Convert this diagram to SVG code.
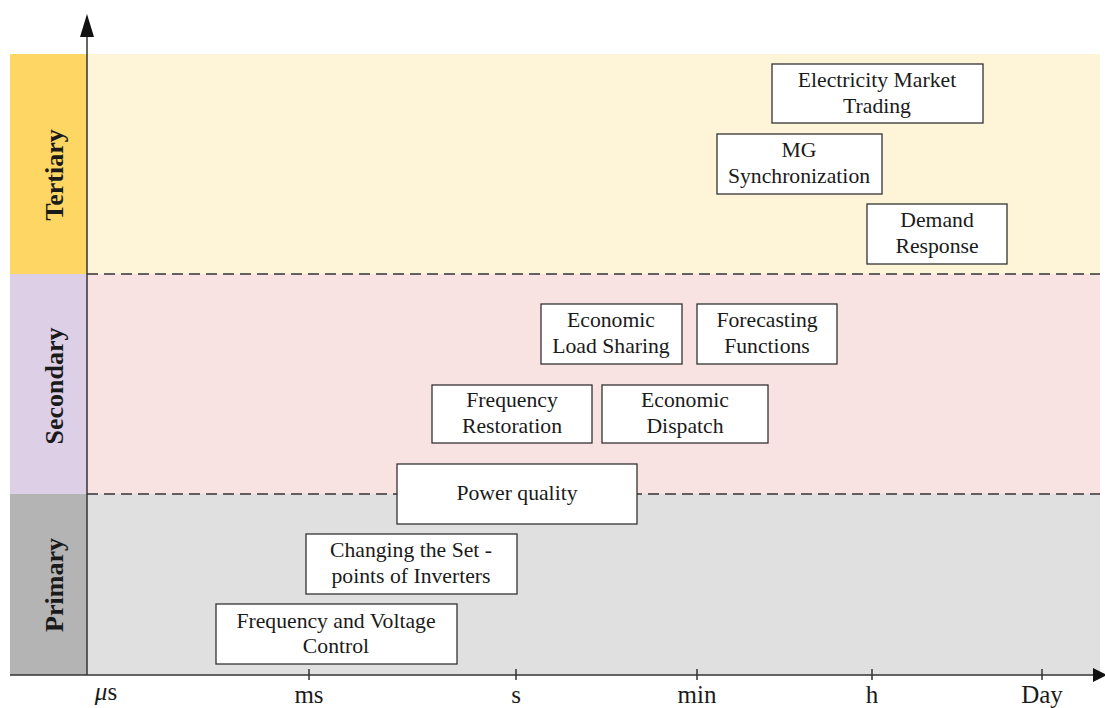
<svg xmlns="http://www.w3.org/2000/svg" width="1105" height="708" viewBox="0 0 1105 708">
  <style>
    .box rect { fill: #ffffff; stroke: #333333; stroke-width: 1.3; }
    .box text { font-family: "Liberation Serif", "Times New Roman", serif; font-size: 21.7px; fill: #1a1a1a; text-anchor: middle; }
    .band { font-family: "Liberation Serif", "Times New Roman", serif; font-size: 26px; font-weight: bold; fill: #1a1a1a; text-anchor: middle; }
    .tick-label { font-family: "Liberation Serif", "Times New Roman", serif; font-size: 25px; fill: #1a1a1a; text-anchor: middle; }
    .dash { stroke: #333333; stroke-width: 1.3; stroke-dasharray: 11 6; fill: none; }
    .axis { stroke: #333333; stroke-width: 1.5; fill: none; }
  </style>

  <!-- level backgrounds -->
  <g id="levels">
    <rect x="87" y="54" width="1013" height="220" fill="#FEF4D7"/>
    <rect x="87" y="274" width="1013" height="220" fill="#F8E3E2"/>
    <rect x="87" y="494" width="1013" height="181" fill="#E0E0E0"/>
    <rect x="10" y="54" width="77" height="220" fill="#FDD663"/>
    <rect x="10" y="274" width="77" height="220" fill="#DCCFE6"/>
    <rect x="10" y="494" width="77" height="181" fill="#B4B4B4"/>
    <text class="band" transform="translate(63,175) rotate(-90)">Tertiary</text>
    <text class="band" transform="translate(63,386) rotate(-90)">Secondary</text>
    <text class="band" transform="translate(63,585) rotate(-90)">Primary</text>
    <line class="dash" x1="87" y1="274" x2="1100" y2="274"/>
    <line class="dash" x1="87" y1="494" x2="1100" y2="494"/>
  </g>

  <!-- axes and time scale -->
  <g id="axes">
    <line class="axis" x1="87" y1="675" x2="87" y2="30"/>
    <polygon points="87,14 80,37 94,37" fill="#111111"/>
    <line class="axis" x1="10" y1="675" x2="1096" y2="675"/>
    <polygon points="1093,668 1107,675 1093,682" fill="#111111"/>
    <g class="axis">
      <line x1="309" y1="669" x2="309" y2="680"/>
      <line x1="516" y1="669" x2="516" y2="680"/>
      <line x1="697" y1="669" x2="697" y2="680"/>
      <line x1="872" y1="669" x2="872" y2="680"/>
      <line x1="1042" y1="669" x2="1042" y2="680"/>
    </g>
    <text class="tick-label" x="106" y="700"><tspan font-style="italic">μ</tspan>s</text>
    <text class="tick-label" x="309" y="703">ms</text>
    <text class="tick-label" x="516" y="703">s</text>
    <text class="tick-label" x="697" y="703">min</text>
    <text class="tick-label" x="872" y="703">h</text>
    <text class="tick-label" x="1042" y="703">Day</text>
  </g>

  <!-- control functions -->
  <g id="electricity-market-trading" class="box">
    <rect x="772" y="64" width="211" height="59"/>
    <text x="877" y="87">Electricity Market</text>
    <text x="877" y="113">Trading</text>
  </g>
  <g id="mg-synchronization" class="box">
    <rect x="717" y="134" width="165" height="60"/>
    <text x="799" y="157">MG</text>
    <text x="799" y="183">Synchronization</text>
  </g>
  <g id="demand-response" class="box">
    <rect x="867" y="204" width="140" height="60"/>
    <text x="937" y="227">Demand</text>
    <text x="937" y="253">Response</text>
  </g>
  <g id="economic-load-sharing" class="box">
    <rect x="541" y="304" width="141" height="60"/>
    <text x="611" y="327">Economic</text>
    <text x="611" y="353">Load Sharing</text>
  </g>
  <g id="forecasting-functions" class="box">
    <rect x="697" y="304" width="140" height="60"/>
    <text x="767" y="327">Forecasting</text>
    <text x="767" y="353">Functions</text>
  </g>
  <g id="frequency-restoration" class="box">
    <rect x="432" y="385" width="160" height="58"/>
    <text x="512" y="407">Frequency</text>
    <text x="512" y="433">Restoration</text>
  </g>
  <g id="economic-dispatch" class="box">
    <rect x="602" y="385" width="166" height="58"/>
    <text x="685" y="407">Economic</text>
    <text x="685" y="433">Dispatch</text>
  </g>
  <g id="power-quality" class="box">
    <rect x="397" y="464" width="240" height="60"/>
    <text x="517" y="500">Power quality</text>
  </g>
  <g id="set-points" class="box">
    <rect x="306" y="534" width="211" height="60"/>
    <text x="411" y="557">Changing the Set -</text>
    <text x="411" y="583">points of Inverters</text>
  </g>
  <g id="frequency-voltage-control" class="box">
    <rect x="216" y="604" width="241" height="60"/>
    <text x="336" y="628">Frequency and Voltage</text>
    <text x="336" y="653">Control</text>
  </g>
</svg>
